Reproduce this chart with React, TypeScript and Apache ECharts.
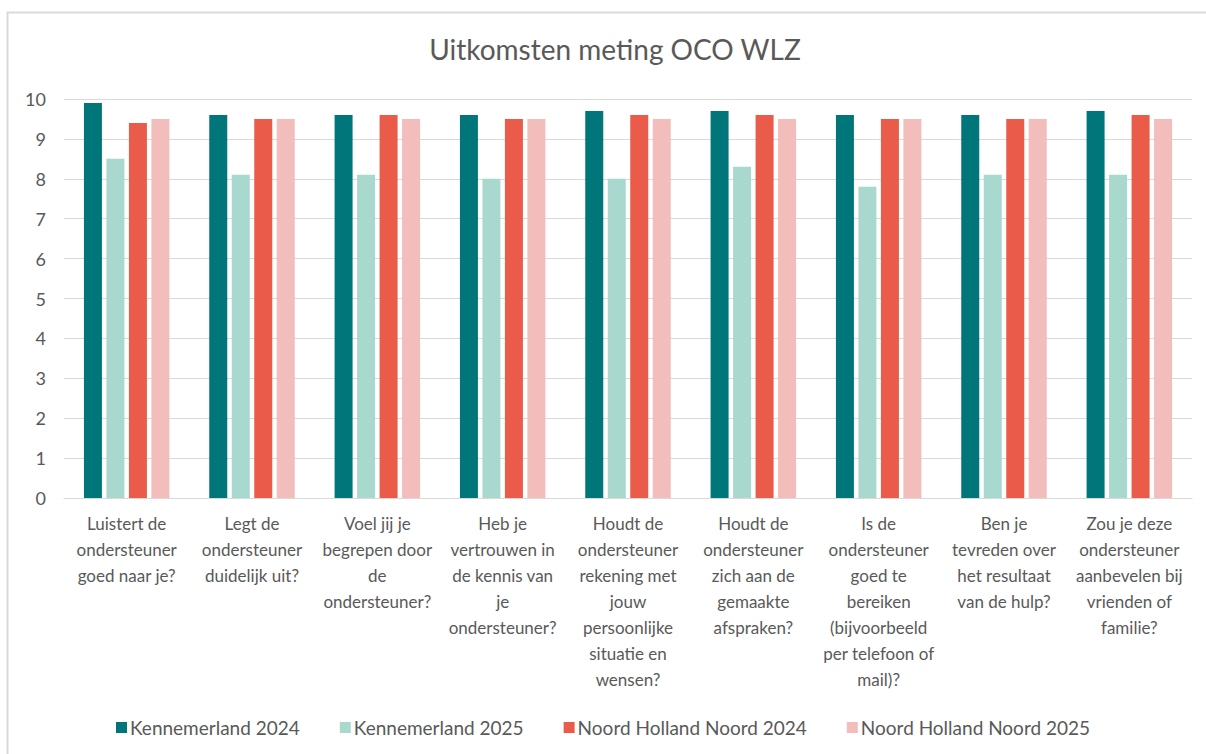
import React, { useEffect, useRef } from "react";
import * as echarts from "echarts";

const categories = [
  "Luistert de\nondersteuner\ngoed naar je?",
  "Legt de\nondersteuner\nduidelijk uit?",
  "Voel jij je\nbegrepen door\nde\nondersteuner?",
  "Heb je\nvertrouwen in\nde kennis van\nje\nondersteuner?",
  "Houdt de\nondersteuner\nrekening met\njouw\npersoonlijke\nsituatie en\nwensen?",
  "Houdt de\nondersteuner\nzich aan de\ngemaakte\nafspraken?",
  "Is de\nondersteuner\ngoed te\nbereiken\n(bijvoorbeeld\nper telefoon of\nmail)?",
  "Ben je\ntevreden over\nhet resultaat\nvan de hulp?",
  "Zou je deze\nondersteuner\naanbevelen bij\nvrienden of\nfamilie?",
];

const kennemerland2024 = [9.9, 9.6, 9.6, 9.6, 9.7, 9.7, 9.6, 9.6, 9.7];
const kennemerland2025 = [8.5, 8.1, 8.1, 8.0, 8.0, 8.3, 7.8, 8.1, 8.1];
const nhn2024 = [9.4, 9.5, 9.6, 9.5, 9.6, 9.6, 9.5, 9.5, 9.6];
const nhn2025 = [9.5, 9.5, 9.5, 9.5, 9.5, 9.5, 9.5, 9.5, 9.5];

const seriesNames = [
  "Kennemerland 2024",
  "Kennemerland 2025",
  "Noord Holland Noord 2024",
  "Noord Holland Noord 2025",
];
const seriesColors = ["#00767a", "#a9d8cf", "#ea5b49", "#f2bdbb"];

const FONT = "Lato, 'Open Sans', sans-serif";
const TEXT = "#595959";

export default function App() {
  const ref = useRef<HTMLDivElement>(null);
  useEffect(() => {
    document.body.style.margin = "0";
    const chart = echarts.init(ref.current!, undefined, { renderer: "svg" });
    const dataSets = [kennemerland2024, kennemerland2025, nhn2024, nhn2025];
    chart.setOption({
      animation: false,
      backgroundColor: "#ffffff",
      textStyle: { fontFamily: FONT },
      graphic: [
        {
          type: "rect",
          shape: { x: 7.5, y: 12.5, width: 1220, height: 780 },
          style: { fill: "none", stroke: "#d9d9d9", lineWidth: 2 },
          silent: true,
        },
      ],
      title: {
        text: "Uitkomsten meting OCO WLZ",
        left: 610,
        textAlign: "center",
        top: 30,
        textStyle: { fontFamily: FONT, fontSize: 28, fontWeight: "normal", color: TEXT },
      },
      legend: {
        bottom: 12,
        left: "center",
        itemWidth: 11,
        itemHeight: 11,
        itemGap: 40,
        icon: "rect",
        textStyle: { fontFamily: FONT, fontSize: 19, color: TEXT, padding: [0, 0, 0, -2] },
        data: seriesNames,
      },
      grid: { left: 64, right: 14, top: 99, bottom: 256, containLabel: false },
      xAxis: {
        type: "category",
        data: categories,
        axisLine: { lineStyle: { color: "#d9d9d9" } },
        axisTick: { show: false },
        axisLabel: {
          interval: 0,
          fontFamily: FONT,
          fontSize: 17,
          color: TEXT,
          lineHeight: 26,
          margin: 12,
          verticalAlign: "top",
        },
      },
      yAxis: {
        type: "value",
        min: 0,
        max: 10,
        interval: 1,
        axisLine: { show: false },
        axisTick: { show: false },
        splitLine: { lineStyle: { color: "#d9d9d9", width: 1 } },
        axisLabel: { fontFamily: FONT, fontSize: 18, color: TEXT, margin: 18 },
      },
      series: seriesNames.map((name, i) => ({
        name,
        type: "bar",
        data: dataSets[i],
        barWidth: 18,
        barGap: "25%",
        itemStyle: { color: seriesColors[i] },
      })),
    });
    return () => chart.dispose();
  }, []);
  return <div ref={ref} style={{ width: 1206, height: 754 }} />;
}
